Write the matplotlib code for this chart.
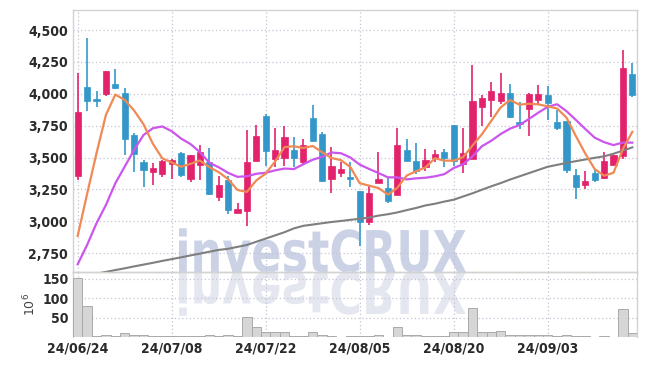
import matplotlib
matplotlib.use("Agg")
import matplotlib.pyplot as plt
from matplotlib import font_manager
from matplotlib.textpath import TextPath
from matplotlib.patches import PathPatch
from matplotlib.font_manager import FontProperties
from matplotlib.transforms import Affine2D

# daily OHLC (KRW)
opens = [3358, 4053, 3960, 4001, 4077, 4006, 3677, 3466, 3390, 3374,
         3448, 3536, 3335, 3445, 3463, 3194, 3324, 3068, 3084, 3476,
         3826, 3487, 3500, 3560, 3468, 3810, 3685, 3335, 3382, 3348,
         3238, 2998, 3304, 3262, 3210, 3560, 3473, 3429, 3494, 3541,
         3753, 3447, 3492, 3894, 3949, 3946, 4006, 3779, 3883, 3951,
         3991, 3779, 3787, 3364, 3288, 3379, 3343, 3445, 3515, 4155]
highs = [4160, 4435, 4024, 4180, 4192, 4048, 3690, 3481, 3460, 3481,
         3487, 3540, 3522, 3596, 3578, 3356, 3356, 3147, 3716, 3753,
         3842, 3730, 3750, 3664, 3648, 3910, 3698, 3581, 3463, 3468,
         3240, 3285, 3547, 3346, 3735, 3643, 3612, 3565, 3560, 3565,
         3755, 3735, 4223, 3991, 4090, 4160, 4077, 3934, 4003, 4069,
         4064, 3873, 3790, 3411, 3393, 3411, 3547, 3522, 4343, 4239]
lows = [3324, 3865, 3894, 3980, 4040, 3520, 3390, 3267, 3285, 3350,
        3330, 3346, 3306, 3324, 3210, 3162, 3058, 3065, 2964, 3470,
        3434, 3424, 3434, 3428, 3440, 3630, 3310, 3220, 3350, 3267,
        2807, 2972, 3300, 3147, 3205, 3470, 3369, 3395, 3468, 3424,
        3437, 3377, 3488, 3750, 3816, 3918, 3812, 3727, 3669, 3920,
        3795, 3720, 3377, 3173, 3252, 3311, 3332, 3443, 3487, 3977]
closes = [3855, 3946, 3946, 4179, 4045, 3643, 3531, 3405, 3416, 3476,
          3481, 3364, 3520, 3544, 3217, 3285, 3089, 3097, 3466, 3669,
          3554, 3560, 3661, 3500, 3599, 3633, 3319, 3434, 3413, 3332,
          2998, 3225, 3335, 3162, 3596, 3476, 3398, 3481, 3526, 3500,
          3476, 3534, 3941, 3965, 4022, 4006, 3820, 3761, 4001, 3998,
          3930, 3735, 3403, 3272, 3317, 3324, 3473, 3520, 4202, 3993]

# moving averages as drawn
ma5 = [2886, 3215, 3534, 3834, 3994, 3952, 3869, 3761, 3608, 3494,
       3462, 3428, 3451, 3477, 3425, 3386, 3331, 3246, 3231, 3321,
       3375, 3469, 3582, 3589, 3575, 3591, 3542, 3497, 3480, 3426,
       3299, 3280, 3261, 3210, 3263, 3359, 3393, 3423, 3495, 3476,
       3476, 3503, 3595, 3683, 3788, 3894, 3951, 3915, 3922, 3917,
       3902, 3885, 3813, 3668, 3531, 3410, 3358, 3381, 3567, 3702]
ma10 = [2664, 2815, 2985, 3128, 3298, 3429, 3560, 3677, 3730, 3744,
        3707, 3649, 3606, 3543, 3460, 3424, 3380, 3349, 3354, 3373,
        3381, 3400, 3414, 3410, 3448, 3483, 3506, 3540, 3534, 3501,
        3445, 3411, 3379, 3345, 3345, 3329, 3337, 3342, 3353, 3370,
        3418, 3448, 3509, 3589, 3632, 3685, 3727, 3755, 3803, 3852,
        3898, 3918, 3864, 3795, 3724, 3656, 3621, 3598, 3618, 3617]
ma_long = [2560, 2575, 2590, 2604, 2618, 2632, 2647, 2661, 2675, 2690,
           2704, 2718, 2733, 2747, 2762, 2776, 2785, 2800, 2815, 2840,
           2865, 2890, 2915, 2945, 2965, 2975, 2985, 2995, 3003, 3012,
           3020, 3030, 3045, 3056, 3070, 3088, 3105, 3125, 3138, 3155,
           3170, 3195, 3220, 3248, 3275, 3300, 3328, 3353, 3378, 3403,
           3428, 3443, 3458, 3472, 3485, 3498, 3510, 3530, 3555, 3580]

# volume in millions
volume = [153, 81, 3, 4, 3, 10, 4, 4, 2, 2, 2, 2, 2, 2, 4, 2, 4, 2, 52, 26,
          14, 14, 14, 2, 2, 13, 5, 3, 1, 2, 2, 3, 6, 1, 26, 4, 4, 2, 2, 2,
          13, 13, 74, 13, 13, 15, 4, 4, 6, 4, 4, 2, 4, 2, 2, 0.5, 2, 0.5, 72, 11]

price_ticks = [2750, 3000, 3250, 3500, 3750, 4000, 4250, 4500]
vol_ticks = [50, 100, 150]
tick_labels = ["24/06/24", "24/07/08", "24/07/22", "24/08/05", "24/08/20", "24/09/03"]
tick_pos = [0, 10, 20, 30, 40, 50]

UP = "#e3226c"
DOWN = "#3398c9"
GRID = "#c4c4d4"

# look for a condensed / narrow face for the labels, else fall back
label_prop = None
for f in font_manager.fontManager.ttflist:
    name = (f.fname + " " + f.name).lower()
    if ("condensed" in name or "narrow" in name) and "bold" in name and "oblique" not in name and "italic" not in name:
        label_prop = FontProperties(fname=f.fname, size=10)
        break
if label_prop is None:
    label_prop = FontProperties(family="DejaVu Sans", weight="bold", size=9)

W, H = 647, 366
fig = plt.figure(figsize=(W / 100, H / 100), dpi=100)
fig.patch.set_facecolor("white")

left, right = 73 / W, 637 / W
ax = fig.add_axes([left, 1 - 272 / H, right - left, (272 - 10) / H])
axv = fig.add_axes([left, 1 - 337 / H, right - left, (337 - 272) / H], sharex=ax)
for a in (ax, axv):
    a.set_facecolor("none")
    for s in a.spines.values():
        s.set_color("#d2d2d2")
        s.set_linewidth(1.0)
    a.grid(True, color=GRID, linestyle=(0, (1, 2)), linewidth=0.9)
    a.set_axisbelow(True)
    a.tick_params(length=0, colors="#2a2a2a")

# watermark "investCRUX" and its reflection (pixel coordinates)
tp = TextPath((0, 0), "investCRUX", size=1, prop=FontProperties(family="DejaVu Sans", weight="bold"))
ext = tp.get_extents()
sx = 287 / ext.width
sy = 42 / 0.73
base = H - 272
fig.add_artist(PathPatch(tp, transform=Affine2D().translate(-ext.x0, 0).scale(sx, sy).translate(179, base),
                         facecolor="#cbd2e6", edgecolor="none", zorder=-5))
fig.add_artist(PathPatch(tp, transform=Affine2D().translate(-ext.x0, 0).scale(sx, -sy).translate(179, base),
                         facecolor="#e5e7f0", edgecolor="none", zorder=-5))

x = list(range(len(closes)))
bw = 0.68
for i in x:
    o, h, l, c = opens[i], highs[i], lows[i], closes[i]
    col = UP if c >= o else DOWN
    ax.vlines(i, l, h, color=col, linewidth=1.2, zorder=3)
    ax.bar(i, max(abs(c - o), 8), bottom=min(o, c), width=bw, color=col,
           edgecolor=col, linewidth=0.5, zorder=4)

ax.plot(x, ma_long, color="#7f7f7f", linewidth=1.5, zorder=5)
ax.plot(x, ma10, color="#cc55ee", linewidth=1.6, zorder=5)
ax.plot(x, ma5, color="#ef8a55", linewidth=1.6, zorder=6)

ax.set_xlim(-0.5, 59.5)
ax.set_ylim(2603, 4657)
ax.set_yticks(price_ticks)
ax.set_yticklabels(["{:,}".format(v) for v in price_ticks], fontproperties=label_prop)
ax.set_xticks(tick_pos)
ax.tick_params(axis="x", labelbottom=False)

axv.bar(x, volume, width=1.0, color="#d6d6d6", edgecolor="#a9a9a9", linewidth=0.7, zorder=3)
axv.set_ylim(0, 168)
axv.set_yticks(vol_ticks)
axv.set_yticklabels([str(v) for v in vol_ticks], fontproperties=label_prop)
axv.set_xticks(tick_pos)
axv.set_xticklabels(tick_labels, fontproperties=label_prop)
axv.tick_params(axis="y", pad=3)
axv.spines["bottom"].set_visible(False)
axv.set_ylabel(r"$10^6$", fontsize=9, color="#444444")
axv.yaxis.set_label_coords(-0.062, 0.5)

fig.savefig("out.png", dpi=100)
